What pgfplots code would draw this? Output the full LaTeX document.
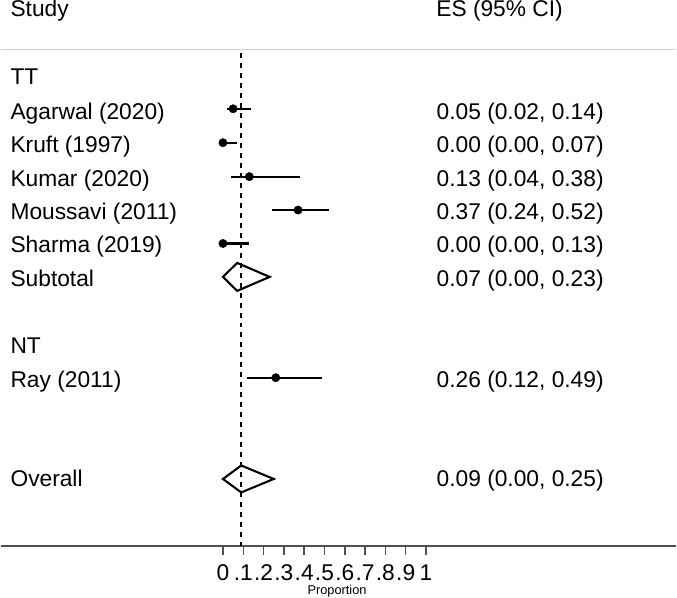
\documentclass[border=0pt]{standalone}
\usepackage{pgfplots}
\pgfplotsset{compat=1.18}
\usepackage{pgfplotstable}
\usepackage{fontspec}
\setmainfont{Liberation Sans}

\definecolor{rulegray}{HTML}{D2D2D2}
\definecolor{axisgray}{HTML}{505050}

% y is measured in pixels from the top of the picture
\pgfplotstableread{
y     es   lo   hi
108.5 0.05 0.02 0.14
142.5 0.00 0.00 0.07
176.5 0.13 0.04 0.38
210.0 0.37 0.24 0.52
243.5 0.00 0.00 0.13
378.0 0.26 0.12 0.49
}\studies

\begin{document}
\begin{tikzpicture}[
    every node/.style={inner sep=0pt, font=\fontsize{22.8bp}{27bp}\selectfont}
  ]
  \begin{axis}[
      width=677bp, height=600bp, scale only axis,
      xmin=-1.0943, xmax=2.2324,
      ymin=0, ymax=600, y dir=reverse,
      hide axis, clip=false]

    % header and rules
    \draw[rulegray, line width=1.5bp] (axis cs:-1.0943,49.3) -- (axis cs:2.2324,49.3);
    \draw[axisgray, line width=1.5bp] (axis cs:-1.0943,546.7) -- (axis cs:2.2324,546.7);
    \node[anchor=base west] at (axis cs:-1.047,16) {Study};
    \node[anchor=base west] at (axis cs:1.050,16) {ES (95\% CI)};

    % null line at overall estimate
    \addplot[black, line width=2.4bp, dash pattern=on 5bp off 5bp]
      coordinates {(0.09,52.7) (0.09,546.7)};

    % study estimates
    \addplot[only marks, mark=*, mark size=4.2bp, black,
      error bars/.cd, x dir=both, x explicit, error mark=none,
      error bar style={line width=2.2bp, black}]
      table[x=es, y=y,
        x error plus expr=\thisrow{hi}-\thisrow{es},
        x error minus expr=\thisrow{es}-\thisrow{lo}] {\studies};

    % pooled diamonds
    \addplot[black, line width=2.1bp, line join=miter]
      coordinates {(0.00,277) (0.07,263) (0.23,277) (0.07,291)} -- cycle;
    \addplot[black, line width=2.1bp, line join=miter]
      coordinates {(0.00,479.5) (0.09,466) (0.25,479.5) (0.09,493)} -- cycle;

    % left column
    \node[anchor=base west] at (axis cs:-1.047,84) {TT};
    \node[anchor=base west] at (axis cs:-1.047,119) {Agarwal (2020)};
    \node[anchor=base west] at (axis cs:-1.047,152.5) {Kruft (1997)};
    \node[anchor=base west] at (axis cs:-1.047,186) {Kumar (2020)};
    \node[anchor=base west] at (axis cs:-1.047,219.5) {Moussavi (2011)};
    \node[anchor=base west] at (axis cs:-1.047,253) {Sharma (2019)};
    \node[anchor=base west] at (axis cs:-1.047,286.5) {Subtotal};
    \node[anchor=base west] at (axis cs:-1.047,354) {NT};
    \node[anchor=base west] at (axis cs:-1.047,387.5) {Ray (2011)};
    \node[anchor=base west] at (axis cs:-1.047,487.5) {Overall};

    % right column
    \node[anchor=base west] at (axis cs:1.0516,119) {0.05 (0.02, 0.14)};
    \node[anchor=base west] at (axis cs:1.0516,152.5) {0.00 (0.00, 0.07)};
    \node[anchor=base west] at (axis cs:1.0516,186) {0.13 (0.04, 0.38)};
    \node[anchor=base west] at (axis cs:1.0516,219.5) {0.37 (0.24, 0.52)};
    \node[anchor=base west] at (axis cs:1.0516,253) {0.00 (0.00, 0.13)};
    \node[anchor=base west] at (axis cs:1.0516,286.5) {0.07 (0.00, 0.23)};
    \node[anchor=base west] at (axis cs:1.0516,387.5) {0.26 (0.12, 0.49)};
    \node[anchor=base west] at (axis cs:1.0516,487.5) {0.09 (0.00, 0.25)};

    % x axis ticks and labels
    \draw[axisgray, line width=1.5bp]
      (axis cs:0,546.7) -- (axis cs:0,556)
      (axis cs:0.1,546.7) -- (axis cs:0.1,556)
      (axis cs:0.2,546.7) -- (axis cs:0.2,556)
      (axis cs:0.3,546.7) -- (axis cs:0.3,556)
      (axis cs:0.4,546.7) -- (axis cs:0.4,556)
      (axis cs:0.5,546.7) -- (axis cs:0.5,556)
      (axis cs:0.6,546.7) -- (axis cs:0.6,556)
      (axis cs:0.7,546.7) -- (axis cs:0.7,556)
      (axis cs:0.8,546.7) -- (axis cs:0.8,556)
      (axis cs:0.9,546.7) -- (axis cs:0.9,556)
      (axis cs:1,546.7) -- (axis cs:1,556);
    \node[anchor=base] at (axis cs:0,581.5) {0};
    \node[anchor=base] at (axis cs:0.1,581.5) {.1};
    \node[anchor=base] at (axis cs:0.2,581.5) {.2};
    \node[anchor=base] at (axis cs:0.3,581.5) {.3};
    \node[anchor=base] at (axis cs:0.4,581.5) {.4};
    \node[anchor=base] at (axis cs:0.5,581.5) {.5};
    \node[anchor=base] at (axis cs:0.6,581.5) {.6};
    \node[anchor=base] at (axis cs:0.7,581.5) {.7};
    \node[anchor=base] at (axis cs:0.8,581.5) {.8};
    \node[anchor=base] at (axis cs:0.9,581.5) {.9};
    \node[anchor=base] at (axis cs:1,581.5) {1};
    \node[anchor=base, font=\fontsize{12.8bp}{15bp}\selectfont] at (axis cs:0.562,595.5) {Proportion};
  \end{axis}
\end{tikzpicture}
\end{document}
